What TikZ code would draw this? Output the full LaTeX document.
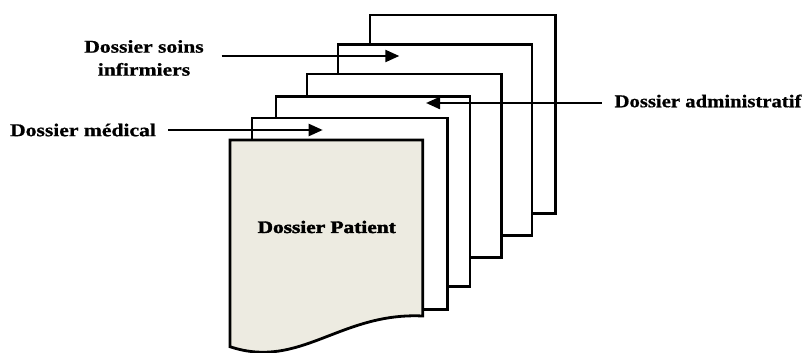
\documentclass[tikz,border=0pt]{standalone}
\usepackage{fontspec}
\setmainfont{Liberation Serif}
\newfontfamily\labelfont[FakeBold=0.8]{Liberation Serif Bold}
\newfontfamily\heavyfont[FakeBold=2.2]{Liberation Serif Bold}
\usetikzlibrary{arrows.meta}
\definecolor{paper}{RGB}{237,235,225}
\tikzset{
  sheet/.style={draw=black, fill=white, line width=2.8pt},
  frontsheet/.style={draw=black, fill=paper, line width=2.8pt},
  pointer/.style={draw=black, line width=2.3pt, -{Triangle[length=14pt,width=12pt]}},
  lbl/.style={font=\fontsize{18}{23}\selectfont\labelfont, inner sep=0pt, align=center},
  heavylbl/.style={font=\fontsize{17.5}{21}\selectfont\heavyfont, inner sep=0pt},
}
\begin{document}
\begin{tikzpicture}[x=1pt, y=-1pt]
  \useasboundingbox (0,0) rectangle (805,353);

  % stacked sheets, back to front
  \path[sheet] (370,15)   rectangle (555.7,213.3);
  \path[sheet] (338,44.3) rectangle (532,235.7);
  \path[sheet] (307,74)   rectangle (501.7,257.7);
  \path[sheet] (276,96.7) rectangle (470,286.7);
  \path[sheet] (252,118)  rectangle (447.3,309.3);

  % front document with wavy lower edge
  \path[frontsheet] (230,140) -- (422.7,140) -- (422.7,316)
      .. controls (340,312) and (300,370) .. (230,346.7) -- cycle;

  \node[heavylbl] (patient) at (326.7,227) {\scalebox{1.22}[1]{Dossier Patient}};

  % labels
  \node[lbl] (soins) at (144,58)
    {\scalebox{1.2}[1]{Dossier soins}\\\scalebox{1.2}[1]{infirmiers}};
  \node[lbl] (medical) at (83,130) {\scalebox{1.2}[1]{Dossier médical}};
  \node[lbl] (admin) at (708,101) {\scalebox{1.15}[1]{Dossier administratif}};

  % arrow end points
  \coordinate (soinsS) at (221.7,56);
  \coordinate (soinsT) at (399.3,56);
  \coordinate (medS)   at (168,130);
  \coordinate (medT)   at (322.7,130);
  \coordinate (adminS) at (601.7,103);
  \coordinate (adminT) at (426,103);

  \draw[pointer] (soinsS) -- (soinsT);
  \draw[pointer] (medS) -- (medT);
  \draw[pointer] (adminS) -- (adminT);
\end{tikzpicture}
\end{document}
